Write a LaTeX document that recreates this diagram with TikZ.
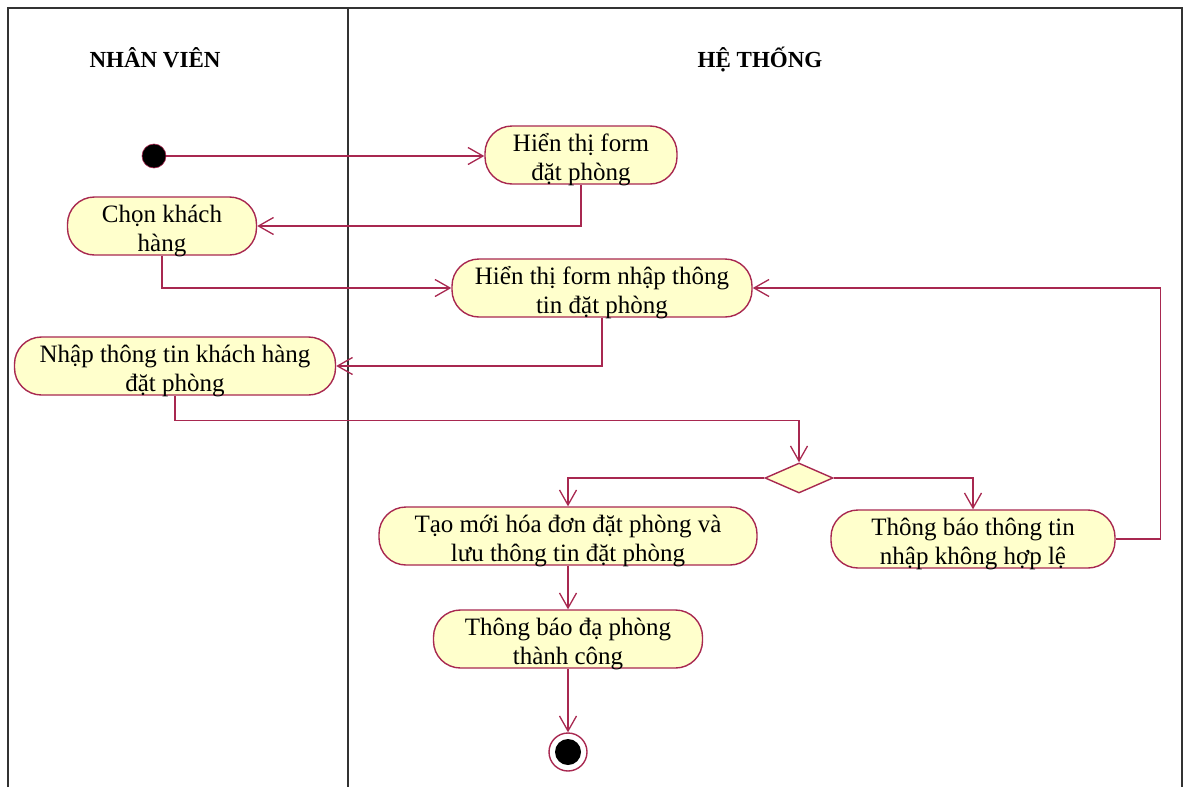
\documentclass[tikz,border=0pt]{standalone}
\usepackage{fontspec}
\setmainfont{Liberation Serif}
\usetikzlibrary{arrows.meta,shapes.geometric}
\definecolor{umlline}{RGB}{168,40,80}
\definecolor{umlfill}{RGB}{255,255,204}
\definecolor{framec}{RGB}{50,50,50}
\tikzset{
  act/.style={draw=umlline, fill=umlfill, line width=1.4pt, rounded corners=27pt,
    inner sep=0pt, minimum height=58pt, align=center, text height=53pt, text depth=3pt,
    font=\fontsize{25}{29}\selectfont},
  flow/.style={draw=umlline, line width=1.4pt, -{Straight Barb[length=15pt,width=17pt,line width=1.3pt]}},
  lane/.style={draw=framec, line width=2pt},
  header/.style={font=\bfseries\fontsize{23}{26}\selectfont, anchor=base, inner sep=0pt},
  decision/.style={diamond, draw=umlline, fill=umlfill, line width=1.4pt, aspect=2.27,
    minimum width=68pt, minimum height=30pt, inner sep=0pt}
}
\begin{document}
\begin{tikzpicture}[x=1pt,y=-1pt]
\useasboundingbox (0,0) rectangle (1190,787);
% swimlane frame
\draw[lane] (8,787) -- (8,8) -- (1182,8) -- (1182,787);
\draw[lane] (348,8) -- (348,787);
\node[header] (h1) at (155,67) {NHÂN VIÊN};
\node[header] (h2) at (760,67) {HỆ THỐNG};
% nodes
\node[circle, fill=black, draw=umlline, line width=0.6pt, minimum size=24pt, inner sep=0pt] (start) at (154,156) {};
\node[act, minimum width=192pt] (a1) at (581,155) {Hiển thị form\\đặt phòng};
\node[act, minimum width=189pt] (a2) at (162,226) {Chọn khách\\hàng};
\node[act, minimum width=300pt] (a3) at (602,288) {Hiển thị form nhập thông\\tin đặt phòng};
\node[act, minimum width=321pt] (a4) at (175,366) {Nhập thông tin khách hàng\\đặt phòng};
\node[decision] (dec) at (799,478) {};
\node[act, minimum width=378pt] (a5) at (568,536) {Tạo mới hóa đơn đặt phòng và\\lưu thông tin đặt phòng};
\node[act, minimum width=284pt] (a6) at (973,539) {Thông báo thông tin\\nhập không hợp lệ};
\node[act, minimum width=269pt] (a7) at (568,639) {Thông báo đạ phòng\\thành công};
\node[circle, draw=umlline, line width=1.4pt, minimum size=38pt, inner sep=0pt] (end) at (568,752) {};
\node[circle, fill=black, minimum size=26pt, inner sep=0pt] (endin) at (end.center) {};
% connectors
\draw[flow] (start.east) -- (start.east -| a1.west);
\draw[flow] (a1.south) |- (a2.east);
\draw[flow] (a2.south) |- (a3.west);
\draw[flow] (a3.south) |- (a4.east);
\draw[flow] (a4.south) -- ++(0,25) -| (dec.north);
\draw[flow] (dec.west) -| (a5.north);
\draw[flow] (dec.east) -| (a6.north);
\draw[flow] (a6.east) -- ++(45,0) |- (a3.east);
\draw[flow] (a5.south) -- (a7.north);
\draw[flow] (a7.south) -- (end.north);
\end{tikzpicture}
\end{document}
